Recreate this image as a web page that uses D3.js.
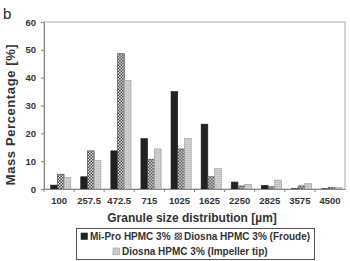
<!DOCTYPE html>
<html>
<head>
<meta charset="utf-8">
<script src="https://cdn.jsdelivr.net/npm/d3@7"></script>
<style>
  body { margin: 0; background: #fff; }
  svg { display: block; font-family: "Liberation Sans", Arial, sans-serif; }
</style>
</head>
<body>
<script>
var width = 350
var height = 261

// granule size classes (µm)
var sizes = ['100', '257.5', '472.5', '715', '1025', '1625', '2250', '2825', '3575', '4500']
var seriesNames = ['Mi-Pro HPMC 3%', 'Diosna HPMC 3% (Froude)', 'Diosna HPMC 3% (Impeller tip)']
var miPro = [1.4, 4.4, 13.7, 18.1, 35.0, 23.3, 2.5, 1.3, 0.1, 0.1]
var froude = [5.3, 13.7, 48.6, 10.7, 14.4, 4.4, 1.1, 0.8, 1.1, 0.5]
var impeller = [4.1, 10.2, 39.0, 14.4, 18.1, 7.3, 1.7, 3.2, 2.0, 0.5]
var yTicks = [0, 10, 20, 30, 40, 50, 60]

var margin = {left: 44, right: 5, top: 22, bottom: 72}

var svg = d3.select('body').append('svg')
    .attr('width', width)
    .attr('height', height)

// fill patterns
var defs = svg.append('defs')
var checker = defs.append('pattern')
    .attr('id', 'checker')
    .attr('patternUnits', 'userSpaceOnUse')
    .attr('width', 3).attr('height', 3)
checker.append('rect').attr('width', 3).attr('height', 3).attr('fill', '#f4f4f4')
checker.append('rect').attr('width', 1.5).attr('height', 1.5).attr('fill', '#333')
checker.append('rect').attr('x', 1.5).attr('y', 1.5).attr('width', 1.5).attr('height', 1.5).attr('fill', '#333')

var dots = defs.append('pattern')
    .attr('id', 'dots')
    .attr('patternUnits', 'userSpaceOnUse')
    .attr('width', 2).attr('height', 2)
dots.append('rect').attr('width', 2).attr('height', 2).attr('fill', '#d2d2d2')
dots.append('rect').attr('width', 1).attr('height', 1).attr('fill', '#b4b4b4')

var fills = ['#222', 'url(#checker)', 'url(#dots)']
var strokes = ['#222', '#444', '#999']

var x = d3.scaleBand()
    .domain(sizes)
    .range([margin.left, width - margin.right])

var xSub = d3.scaleBand()
    .domain(d3.range(3))
    .range([x.bandwidth() * 0.22, x.bandwidth() * 0.89])

var y = d3.scaleLinear()
    .domain([0, 60])
    .range([height - margin.bottom, margin.top])

// plot frame
svg.append('rect')
    .attr('x', margin.left)
    .attr('y', margin.top)
    .attr('width', width - margin.right - margin.left)
    .attr('height', y(0) - margin.top)
    .attr('fill', 'none')
    .attr('stroke', '#aaa')

var rows = sizes.map((s, i) => ({size: s, values: [miPro[i], froude[i], impeller[i]]}))

var group = svg.selectAll('g.group')
    .data(rows)
    .enter().append('g')
    .attr('class', 'group')
    .attr('transform', d => `translate(${x(d.size)},0)`)

group.selectAll('rect')
    .data(d => d.values.map((v, k) => ({k: k, v: v})))
    .enter().append('rect')
    .attr('x', d => xSub(d.k))
    .attr('width', xSub.bandwidth())
    .attr('y', d => y(d.v))
    .attr('height', d => y(0) - y(d.v))
    .attr('fill', d => fills[d.k])
    .attr('stroke', d => strokes[d.k])
    .attr('stroke-width', 0.6)

// y axis
var yAxis = svg.append('g')
    .attr('transform', `translate(${margin.left},0)`)
    .call(d3.axisLeft(y).tickValues(yTicks).tickSize(3).tickPadding(5))
yAxis.select('.domain').attr('stroke', '#888')
yAxis.selectAll('line').attr('stroke', '#888')
yAxis.selectAll('text')
    .attr('fill', '#333')
    .style('font-size', '9.5px')
    .style('font-weight', 'bold')

// x axis, ticks on the class boundaries
var xAxis = svg.append('g')
    .attr('transform', `translate(0,${y(0)})`)
    .call(d3.axisBottom(x).tickSize(0).tickPadding(8))
xAxis.select('.domain').attr('stroke', '#888')
xAxis.selectAll('text')
    .attr('fill', '#333')
    .style('font-size', '9.5px')
    .style('font-weight', 'bold')
xAxis.selectAll('line.bound')
    .data(sizes)
    .enter().append('line')
    .attr('class', 'bound')
    .attr('x1', d => x(d)).attr('x2', d => x(d))
    .attr('y1', 0).attr('y2', 3)
    .attr('stroke', '#888')

// titles
svg.append('text')
    .attr('transform', `translate(15,${(margin.top + y(0)) / 2 + 9}) rotate(-90)`)
    .attr('text-anchor', 'middle')
    .attr('fill', '#333')
    .style('font-size', '13px')
    .style('font-weight', 'bold')
    .style('letter-spacing', '0.6px')
    .text('Mass Percentage [%]')

svg.append('text')
    .attr('x', 192)
    .attr('y', 222)
    .attr('text-anchor', 'middle')
    .attr('fill', '#333')
    .style('font-size', '12px')
    .style('font-weight', 'bold')
    .text('Granule size distribution [µm]')

svg.append('text')
    .attr('x', 3)
    .attr('y', 19)
    .attr('fill', '#222')
    .style('font-size', '15px')
    .text('b')

// legend
var legend = svg.append('g')
svg.append('rect')
    .attr('x', 76.5).attr('y', 228.5)
    .attr('width', 238).attr('height', 31)
    .attr('fill', 'none')
    .attr('stroke', '#555')

var legendPos = [[81, 240], [175, 240], [113, 255]]
var item = legend.selectAll('g')
    .data(seriesNames)
    .enter().append('g')
    .attr('transform', (d, i) => `translate(${legendPos[i][0]},${legendPos[i][1]})`)
item.append('rect')
    .attr('x', 0).attr('y', -7)
    .attr('width', 6.5).attr('height', 6.5)
    .attr('fill', (d, i) => fills[i])
    .attr('stroke', (d, i) => strokes[i])
    .attr('stroke-width', 0.6)
item.append('text')
    .attr('x', 9)
    .attr('fill', '#333')
    .style('font-size', '10px')
    .style('font-weight', 'bold')
    .text(d => d)
</script>
</body>
</html>
